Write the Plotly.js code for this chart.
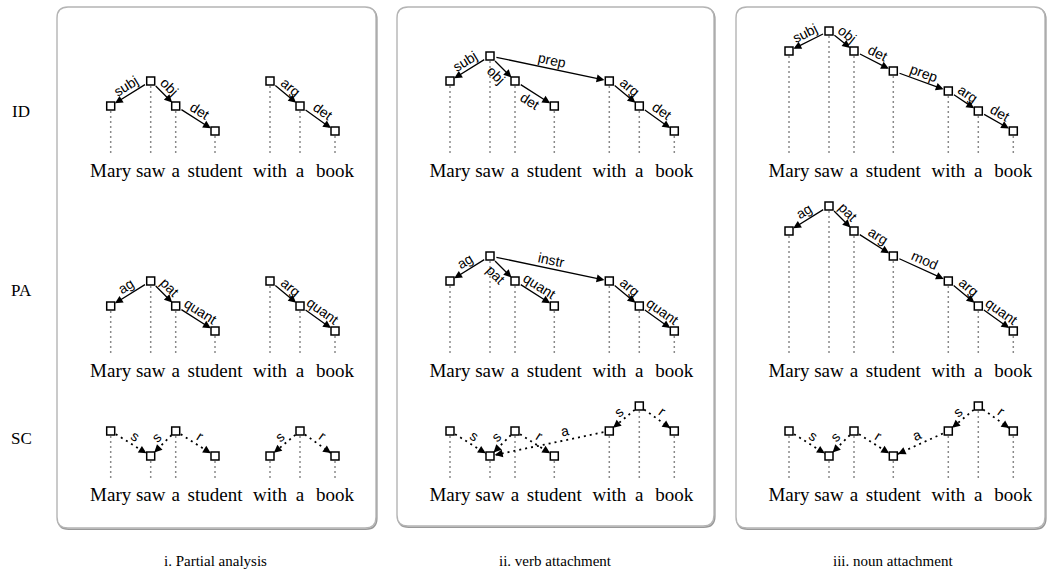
<!DOCTYPE html>
<html><head><meta charset="utf-8">
<script src="https://cdn.plot.ly/plotly-3.0.1.min.js"></script>
<style>html,body{margin:0;padding:0;background:#fff}#chart{width:1049px;height:572px}</style>
</head><body><div id="chart"></div>
<script>
// ---------------- data ----------------
const words = ['Mary','saw','a','student','with','a','book'];
const rowNames = ['ID','PA','SC'];
const panelTitles = ['i. Partial analysis','ii. verb attachment','iii. noun attachment'];

// node depth of each word, per panel (i, ii, iii)
const idLevels = [[1,0,1,2,0,1,2],[1,0,1,2,1,2,3],[1,0,1,2,3,4,5]];
const paLevels = [[1,0,1,2,0,1,2],[1,0,1,2,1,2,3],[1,0,1,2,3,4,5]];
const scLevels = [[1,2,1,2,2,1,2],[1,2,1,2,1,0,1],[1,2,1,2,1,0,1]];

// edges: from word index -> to word index (arrow points at "to")
const treeFrom = [[1,1,2,4,5],[1,1,2,1,4,5],[1,1,2,3,4,5]];
const treeTo   = [[0,2,3,5,6],[0,2,3,4,5,6],[0,2,3,4,5,6]];
const idLabels = [['subj','obj','det','arg','det'],['subj','obj','det','prep','arg','det'],['subj','obj','det','prep','arg','det']];
const paLabels = [['ag','pat','quant','arg','quant'],['ag','pat','quant','instr','arg','quant'],['ag','pat','arg','mod','arg','quant']];
const idSides  = [[1,1,1,1,1],[1,-1,-1,1,1,1],[1,1,1,1,1,1]];
const paSides  = [[1,1,1,1,1],[1,-1,1,1,1,1],[1,1,1,1,1,1]];

const scFrom   = [[0,2,2,5,5],[0,2,2,4,5,5],[0,2,2,4,5,5]];
const scTo     = [[1,1,3,4,6],[1,1,3,1,4,6],[1,1,3,3,4,6]];
const scLabels = [['s','s','r','s','r'],['s','s','r','a','s','r'],['s','s','r','a','s','r']];
const scSides  = [[1,1,1,1,1],[1,1,1,1,1,1],[1,1,1,1,1,1]];

// ---------------- layout (pixel space) ----------------
const W = 1049, H = 572;
const panelX0 = [0, 339.3, 678.3];
const wordX = [110.7, 150.7, 175.7, 215, 270, 300, 335];
const panelBoxes = [[57,7,376,528],[397,7,714,526],[736,7,1045,528]];
const captionX = [215, 555, 893], captionY = 561;
const rowLabelY = [111, 290, 438], rowLabelX = 21;
const labelAt = {'2-1-3': 0.36}; // row-panel-edge : fraction along edge

const rows = [
  {name:'ID', levels:idLevels, from:treeFrom, to:treeTo, labels:idLabels, sides:idSides, dashed:false, bottom:131, textY:172, sp:[25,25,20]},
  {name:'PA', levels:paLevels, from:treeFrom, to:treeTo, labels:paLabels, sides:paSides, dashed:false, bottom:331, textY:372, sp:[25,25,25]},
  {name:'SC', levels:scLevels, from:scFrom, to:scTo, labels:scLabels, sides:scSides, dashed:true, bottom:456, textY:496, sp:[25,25,25]}
];

const dotX=[], dotY=[], nodeX=[], nodeY=[], wX=[], wY=[], wT=[], dashX=[], dashY=[];
const ann = [];
const labelFont = {family:'Liberation Sans, Arial, sans-serif', size:14, color:'#000'};

rows.forEach((row, r) => {
  for (let p = 0; p < 3; p++) {
    const lv = row.levels[p];
    const maxL = Math.max(...lv);
    const xs = wordX.map(v => v + panelX0[p]);
    const ys = lv.map(l => row.bottom - (maxL - l) * row.sp[p]);
    xs.forEach((x, i) => {
      dotX.push(x, x, null); dotY.push(ys[i], row.textY - 16, null);
      nodeX.push(x); nodeY.push(ys[i]);
      wX.push(x); wY.push(row.textY); wT.push(words[i]);
    });
    row.from[p].forEach((f, e) => {
      const t = row.to[p][e];
      const xf = xs[f], yf = ys[f], xt = xs[t], yt = ys[t];
      const dx = xt - xf, dy = yt - yf, len = Math.hypot(dx, dy);
      if (!row.dashed) {
        ann.push({x:xt, y:yt, ax:xf, ay:yf, xref:'x', yref:'y', axref:'x', ayref:'y',
          text:'', showarrow:true, arrowhead:2, arrowsize:1.2, arrowwidth:1.3, arrowcolor:'#000',
          standoff:5, startstandoff:5});
      } else {
        dashX.push(xf, xt, null); dashY.push(yf, yt, null);
        const ux = dx/len, uy = dy/len;
        ann.push({x:xt, y:yt, ax:xt-ux*13, ay:yt-uy*13, xref:'x', yref:'y', axref:'x', ayref:'y',
          text:'', showarrow:true, arrowhead:2, arrowsize:1.2, arrowwidth:1.3, arrowcolor:'#000',
          standoff:5});
      }
      // label
      const key = r+'-'+p+'-'+e;
      const frac = labelAt[key] !== undefined ? labelAt[key] : 0.5;
      const mx = xf + dx*frac, my = yf + dy*frac;
      let vx = dx, vy = dy; if (vx < 0) { vx = -vx; vy = -vy; }
      const ang = Math.atan2(vy, vx) * 180 / Math.PI;
      const nx = vy/len, ny = -vx/len;
      const off = 9 * row.sides[p][e];
      ann.push({x:mx + nx*off, y:my + ny*off, xref:'x', yref:'y', text:row.labels[p][e],
        showarrow:false, textangle:ang, font:labelFont, xanchor:'center', yanchor:'middle'});
    });
  }
});

rowNames.forEach((n, i) => ann.push({x:rowLabelX, y:rowLabelY[i], xref:'x', yref:'y', text:n, showarrow:false,
  font:{family:'Liberation Serif, Times New Roman, serif', size:17, color:'#000'}}));
panelTitles.forEach((t, i) => ann.push({x:captionX[i], y:captionY, xref:'x', yref:'y', text:t, showarrow:false,
  font:{family:'Liberation Serif, Times New Roman, serif', size:15, color:'#000'}}));

function rr(b, r, dx, dy) {
  const [x0,y0,x1,y1] = [b[0]+dx, b[1]+dy, b[2]+dx, b[3]+dy];
  return `M${x0+r},${y0} L${x1-r},${y0} Q${x1},${y0} ${x1},${y0+r} L${x1},${y1-r} Q${x1},${y1} ${x1-r},${y1} L${x0+r},${y1} Q${x0},${y1} ${x0},${y1-r} L${x0},${y0+r} Q${x0},${y0} ${x0+r},${y0} Z`;
}
const shapes = [];
panelBoxes.forEach(b => {
  shapes.push({type:'path', path:rr(b, 11, 0.8, 1.2), xref:'x', yref:'y', line:{color:'#999', width:1.6}, layer:'below'});
  shapes.push({type:'path', path:rr(b, 11, 0, 0), xref:'x', yref:'y', line:{color:'#b4b4b4', width:1.4}, fillcolor:'#fff', layer:'below'});
});

const traces = [
  {type:'scatter', mode:'lines', x:dotX, y:dotY, line:{color:'#8a8a8a', width:1.5, dash:'2px,3px'}, hoverinfo:'skip'},
  {type:'scatter', mode:'lines', x:dashX, y:dashY, line:{color:'#000', width:1.8, dash:'2px,4px'}, hoverinfo:'skip'},
  {type:'scatter', mode:'markers', x:nodeX, y:nodeY, marker:{symbol:'square', size:8, color:'#fff', line:{color:'#000', width:1.5}}, hoverinfo:'skip'},
  {type:'scatter', mode:'text', x:wX, y:wY, text:wT, textposition:'middle center',
    textfont:{family:'Liberation Serif, Times New Roman, serif', size:19, color:'#000'}, hoverinfo:'skip'}
];

Plotly.newPlot('chart', traces, {
  width:W, height:H, margin:{l:0,r:0,t:0,b:0}, showlegend:false,
  paper_bgcolor:'#fff', plot_bgcolor:'#fff',
  xaxis:{range:[0,W], visible:false, fixedrange:true},
  yaxis:{range:[H,0], visible:false, fixedrange:true},
  shapes:shapes, annotations:ann
}, {staticPlot:true});
</script></body></html>
